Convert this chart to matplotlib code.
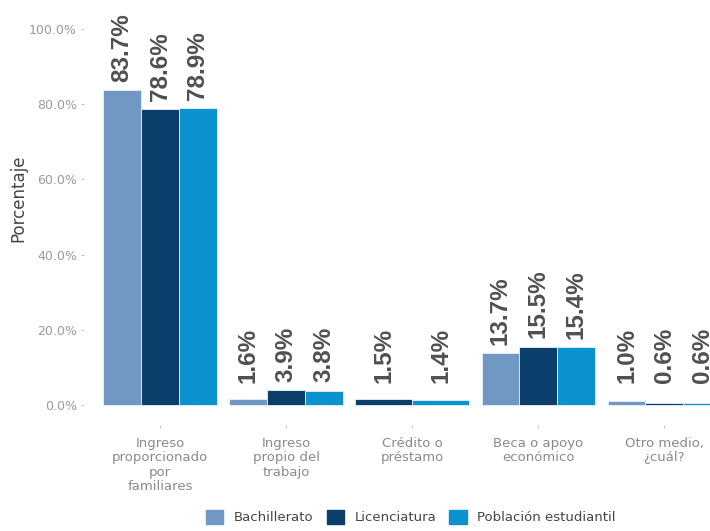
import matplotlib.pyplot as plt
import numpy as np

categorias = ["Ingreso\nproporcionado\npor\nfamiliares",
              "Ingreso\npropio del\ntrabajo",
              "Crédito o\npréstamo",
              "Beca o apoyo\neconómico",
              "Otro medio,\n¿cuál?"]
series = ["Bachillerato", "Licenciatura", "Población estudiantil"]
bachillerato = [83.7, 1.6, np.nan, 13.7, 1.0]
licenciatura = [78.6, 3.9, 1.5, 15.5, 0.6]
poblacion = [78.9, 3.8, 1.4, 15.4, 0.6]
colores = ["#7098c2", "#0b3e6b", "#0a93cf"]
yticks = [0, 20, 40, 60, 80, 100]

valores = np.array([bachillerato, licenciatura, poblacion])

fig = plt.figure(figsize=(7.1, 5.31), dpi=100)
# el panel sigue más allá del borde derecho
ax = fig.add_axes([84.4 / 710, 1 - 425 / 531, 655.6 / 710, 425 / 531])

ancho_grupo = 0.9
for i in range(len(categorias)):
    presentes = [k for k in range(len(series)) if not np.isnan(valores[k, i])]
    w = ancho_grupo / len(presentes)
    for j, k in enumerate(presentes):
        xpos = i + 1 - ancho_grupo / 2 + w * (j + 0.5)
        v = valores[k, i]
        ax.bar(xpos, v, width=w, color=colores[k], edgecolor="#e8f1f8", linewidth=0.6)
        ax.text(xpos, max(v, 3.6) + 2.2, f"{v:.1f}%", rotation=90, ha="center", va="bottom",
                fontsize=17.5, fontweight="bold", color="#505050", family="Liberation Sans")

ax.set_xlim(0.4, 5.6)
ax.set_ylim(-5.32, 107.7)
ax.set_xticks(range(1, len(categorias) + 1))
ax.set_xticklabels(categorias, fontsize=9.5, color="#8a8a8a", linespacing=1.15)
ax.set_yticks(yticks)
ax.set_yticklabels([f"{t:.1f}%" for t in yticks], fontsize=9, color="#9a9a9a")
ax.tick_params(axis="both", length=2.5, width=0.6, color="#bbbbbb", pad=3)
ax.tick_params(axis="x", pad=6)
for s in ax.spines.values():
    s.set_visible(False)

fig.text(18 / 710, 1 - 198 / 531, "Porcentaje", rotation=90, ha="center", va="center",
         fontsize=12, color="#444444")

handles = [plt.Rectangle((0, 0), 1, 1, color=c) for c in colores]
fig.legend(handles, series, loc="center", bbox_to_anchor=(411 / 710, 1 - 517 / 531),
           ncol=3, frameon=False, fontsize=9.5, labelcolor="#444444",
           handlelength=1.3, handleheight=1.3, handletextpad=0.8, columnspacing=1.0)

fig.savefig("out.png", dpi=100)
